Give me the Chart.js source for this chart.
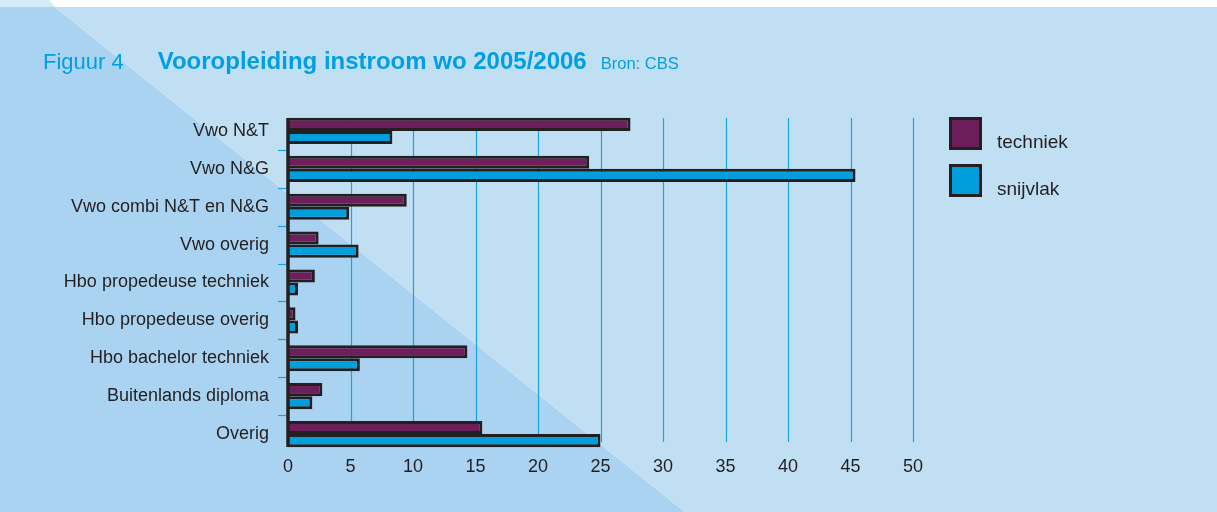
<!DOCTYPE html>
<html>
<head>
<meta charset="utf-8">
<script src="https://cdn.jsdelivr.net/npm/chart.js@4/dist/chart.umd.min.js"></script>
<style>
  html, body { margin: 0; padding: 0; background: #fff; }
  #wrap { position: relative; width: 1217px; height: 512px; overflow: hidden; }
  #chart { position: absolute; left: 0; top: 0; }
  .title { position: absolute; left: 43px; top: 47px; white-space: nowrap; color: #009FE3;
           font-family: 'Liberation Sans Narrow', 'Liberation Sans', sans-serif; }
  .title span { display: inline-block; vertical-align: baseline; }
  .t1 { font-size: 22px; }
  .t2 { font-size: 24px; font-weight: bold; margin-left: 34px; }
  .t3 { font-size: 16.5px; margin-left: 14px; }
  .legend-box { position: absolute; left: 949px; width: 33px; height: 33px; box-sizing: border-box;
                border: 3px solid #231F20; }
  .legend-label { position: absolute; left: 997px; font-size: 19px; color: #231F20; line-height: 20px;
                  font-family: 'Liberation Sans Narrow', 'Liberation Sans', sans-serif; }
</style>
</head>
<body>
<div id="wrap">
  <canvas id="chart" width="1217" height="512"></canvas>
  <div class="title"><span class="t1">Figuur 4</span><span class="t2">Vooropleiding instroom wo 2005/2006</span><span class="t3">Bron: CBS</span></div>
  <div id="legend"></div>
</div>
<script>
// Chart data
const categories = [
    'Vwo N&T', 'Vwo N&G', 'Vwo combi N&T en N&G', 'Vwo overig',
    'Hbo propedeuse techniek', 'Hbo propedeuse overig', 'Hbo bachelor techniek',
    'Buitenlands diploma', 'Overig'
];
const techniek = [27.4, 24.1, 9.5, 2.45, 2.15, 0.6, 14.35, 2.75, 15.55];
const snijvlak = [8.35, 45.4, 4.9, 5.65, 0.8, 0.8, 5.75, 1.95, 25.0];
const xTicks = [0, 5, 10, 15, 20, 25, 30, 35, 40, 45, 50];

const seriesNames = ['techniek', 'snijvlak'];
const colors = ['#6D1F5C', '#009EDB'];
const ink = '#231F20';
const font = "'Liberation Sans Narrow', 'Liberation Sans', sans-serif";

// Background panel with the diagonal shading
const backgroundPlugin = {
    id: 'panel',
    beforeDraw(chart) {
        const ctx = chart.ctx;
        ctx.save();
        ctx.fillStyle = '#C0DFF3';
        ctx.fillRect(0, 0, chart.width, chart.height);
        ctx.fillStyle = '#A9D3F0';
        ctx.beginPath();
        ctx.moveTo(0, 7);
        ctx.lineTo(55, 7);
        ctx.lineTo(685, 512);
        ctx.lineTo(0, 512);
        ctx.closePath();
        ctx.fill();
        ctx.strokeStyle = 'rgba(255,255,255,0.3)';
        ctx.lineWidth = 1;
        ctx.beginPath();
        ctx.moveTo(55, 7);
        ctx.lineTo(685, 512);
        ctx.stroke();
        ctx.fillStyle = '#FFFFFF';
        ctx.fillRect(0, 0, chart.width, 7);
        ctx.fillStyle = '#D6EBF8';
        ctx.beginPath();
        ctx.moveTo(0, 0);
        ctx.lineTo(49, 0);
        ctx.lineTo(55, 7);
        ctx.lineTo(0, 7);
        ctx.closePath();
        ctx.fill();
        ctx.restore();
    }
};

// Vertical grid lines, the y axis line and the small category ticks
const gridPlugin = {
    id: 'grid',
    beforeDatasetsDraw(chart) {
        const ctx = chart.ctx;
        const x = chart.scales.x;
        const y = chart.scales.y;
        const top = y.top + 6;
        const bottom = y.bottom - 11;
        ctx.save();
        ctx.strokeStyle = '#1AA3E3';
        ctx.lineWidth = 1.2;
        xTicks.slice(1).forEach(v => {
            const px = Math.round(x.getPixelForValue(v)) + 0.5;
            ctx.beginPath();
            ctx.moveTo(px, top);
            ctx.lineTo(px, bottom);
            ctx.stroke();
        });
        for (let i = 0; i < categories.length - 1; i++) {
            const py = Math.round((y.getPixelForValue(i) + y.getPixelForValue(i + 1)) / 2) + 0.5;
            ctx.beginPath();
            ctx.moveTo(x.left - 10, py);
            ctx.lineTo(x.left - 2, py);
            ctx.stroke();
        }
        ctx.restore();
    },
    afterDatasetsDraw(chart) {
        const ctx = chart.ctx;
        const x = chart.scales.x;
        const y = chart.scales.y;
        ctx.save();
        ctx.strokeStyle = ink;
        ctx.lineWidth = 3.5;
        ctx.beginPath();
        ctx.moveTo(x.left, y.top + 6);
        ctx.lineTo(x.left, y.bottom - 6);
        ctx.stroke();
        ctx.restore();
    }
};

const chart = new Chart(document.getElementById('chart'), {
    type: 'bar',
    data: {
        labels: categories,
        datasets: [techniek, snijvlak].map((values, i) => ({
            label: seriesNames[i],
            data: values,
            backgroundColor: colors[i],
            borderColor: ink,
            borderWidth: 3,
            borderSkipped: 'start',
            barPercentage: 1,
            categoryPercentage: 0.69
        }))
    },
    options: {
        indexAxis: 'y',
        responsive: false,
        animation: false,
        layout: { padding: { top: 112, right: 304, bottom: 19, left: 0 } },
        plugins: {
            legend: { display: false },
            tooltip: { enabled: false }
        },
        scales: {
            x: {
                min: 0,
                max: 50,
                afterFit(scale) { scale.height = 40; },
                afterBuildTicks(scale) { scale.ticks = xTicks.map(v => ({ value: v })); },
                grid: { display: false, drawTicks: false },
                border: { display: false },
                ticks: { color: ink, font: { family: font, size: 18 }, padding: 3 }
            },
            y: {
                afterFit(scale) { scale.width = 288; },
                grid: { display: false, drawTicks: false },
                border: { display: false },
                ticks: { color: ink, font: { family: font, size: 18 }, padding: 19 }
            }
        }
    },
    plugins: [backgroundPlugin, gridPlugin]
});

// HTML legend built from the datasets
const legend = document.getElementById('legend');
chart.data.datasets.forEach((ds, i) => {
    const box = document.createElement('div');
    box.className = 'legend-box';
    box.style.top = (117 + i * 47) + 'px';
    box.style.background = ds.backgroundColor;
    const label = document.createElement('div');
    label.className = 'legend-label';
    label.style.top = (132 + i * 47) + 'px';
    label.textContent = ds.label;
    legend.appendChild(box);
    legend.appendChild(label);
});
</script>
</body>
</html>
